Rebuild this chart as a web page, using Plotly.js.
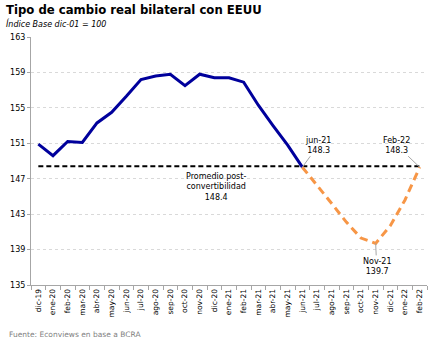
<!DOCTYPE html>
<html><head><meta charset="utf-8">
<script src="https://cdn.plot.ly/plotly-3.0.1.min.js"></script>
<style>body{margin:0;background:#fff}#c{width:443px;height:342px}</style>
</head><body><div id="c"></div>
<script>
const months = ["dic-19","ene-20","feb-20","mar-20","abr-20","may-20","jun-20","jul-20","ago-20","sep-20","oct-20","nov-20","dic-20","ene-21","feb-21","mar-21","abr-21","may-21","jun-21","jul-21","ago-21","sep-21","oct-21","nov-21","dic-21","ene-22","feb-22"];
const observed = [150.9,149.6,151.2,151.1,153.3,154.5,156.3,158.2,158.6,158.8,157.5,158.8,158.4,158.4,157.9,155.3,153.0,150.8,148.3,null,null,null,null,null,null,null,null];
const projected = [null,null,null,null,null,null,null,null,null,null,null,null,null,null,null,null,null,null,148.3,146.3,144.2,142.1,140.3,139.7,141.7,144.6,148.3];
const postConvAvg = 148.4;
const avgLine = months.map(() => postConvAvg);
const yTicks = [135,139,143,147,151,155,159,163];

const font = "Tahoma, 'DejaVu Sans', Verdana, sans-serif";
const traces = [
  {x: months, y: avgLine, type: 'scatter', mode: 'lines', line: {color: '#000', width: 2, dash: '5px,3px'}, hoverinfo: 'skip'},
  {x: months, y: observed, type: 'scatter', mode: 'lines', line: {color: '#00009c', width: 3}},
  {x: months, y: projected, type: 'scatter', mode: 'lines', line: {color: '#f79646', width: 3, dash: '8px,5px'}}
];
const annFont = {family: font, size: 8, color: '#000'};
const layout = {
  width: 443, height: 342,
  margin: {l: 31, r: 16, t: 37, b: 57},
  paper_bgcolor: '#fff', plot_bgcolor: '#fff',
  showlegend: false,
  font: {family: font, size: 8, color: '#000'},
  xaxis: {type: 'category', tickmode: 'array', tickvals: months, ticktext: months, tickangle: -90,
    tickson: 'boundaries', ticks: 'outside', ticklen: 4, tickcolor: '#a6a6a6',
    showline: true, linecolor: '#a6a6a6', linewidth: 1, showgrid: false, zeroline: false,
    tickfont: {family: font, size: 7.5}, range: [-0.5, 26.5]},
  yaxis: {range: [135, 163], tickvals: yTicks, ticks: 'outside', ticklen: 3, tickcolor: '#a6a6a6',
    showline: true, linecolor: '#a6a6a6', linewidth: 1, showgrid: true, gridcolor: '#d9d9d9', griddash: 'dot',
    zeroline: false, tickfont: {family: font, size: 8}},
  annotations: [
    {text: "<b>Tipo de cambio real bilateral con EEUU</b>", xref: 'paper', yref: 'paper', x: -0.068, y: 1.109, xanchor: 'left', yanchor: 'middle', showarrow: false, font: {family: font, size: 11.7, color: '#000'}},
    {text: "<i>Índice Base dic-01 = 100</i>", xref: 'paper', yref: 'paper', x: -0.068, y: 1.056, xanchor: 'left', yanchor: 'middle', showarrow: false, font: {family: font, size: 8, color: '#000'}},
    {text: "Fuente: Econviews en base a BCRA", xref: 'paper', yref: 'paper', x: -0.06, y: -0.2016, xanchor: 'left', yanchor: 'middle', showarrow: false, font: {family: font, size: 7.5, color: '#7f7f7f'}},
    {text: "jun-21<br>148.3", x: 'jun-21', y: 148.3, ax: 16, ay: -22, showarrow: true, arrowhead: 0, arrowwidth: 1, arrowcolor: '#a6a6a6', font: annFont},
    {text: "Feb-22<br>148.3", x: 'feb-22', y: 148.3, ax: -23, ay: -22, showarrow: true, arrowhead: 0, arrowwidth: 1, arrowcolor: '#a6a6a6', font: annFont},
    {text: "Nov-21<br>139.7", x: 'nov-21', y: 139.7, ax: 1, ay: 23, showarrow: true, arrowhead: 0, arrowwidth: 1, arrowcolor: '#a6a6a6', font: annFont},
    {text: "Promedio post-<br>convertibilidad<br>148.4", x: 12.14, y: 146.1, showarrow: false, font: annFont}
  ]
};
Plotly.newPlot('c', traces, layout, {displayModeBar: false, staticPlot: true});
</script></body></html>
